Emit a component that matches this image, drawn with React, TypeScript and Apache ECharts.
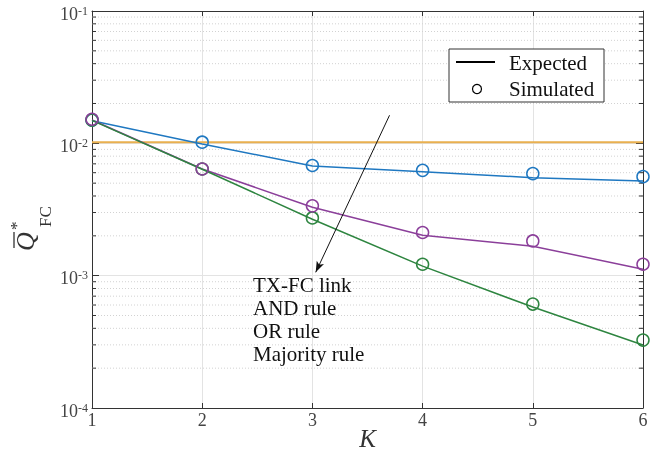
import React, { useEffect, useRef } from "react";
import * as echarts from "echarts";

const K = [1, 2, 3, 4, 5, 6];
const txfcExpected = [0.0102, 0.0102, 0.0102, 0.0102, 0.0102, 0.0102];
const andExpected = [0.0148, 0.0099, 0.00675, 0.0061, 0.0055, 0.0052];
const andSimulated = [0.015, 0.0102, 0.0068, 0.00625, 0.0059, 0.0056];
const orExpected = [0.015, 0.0064, 0.00329, 0.00202, 0.00167, 0.00112];
const orSimulated = [0.0152, 0.0064, 0.00337, 0.00212, 0.00183, 0.00122];
const majExpected = [0.0149, 0.00637, 0.00267, 0.00118, 0.000579, 0.000299];
const majSimulated = [0.015, 0.0064, 0.00273, 0.00122, 0.00061, 0.000326];
const annotationLines = ["TX-FC link", "AND rule", "OR rule", "Majority rule"];
const legendLabels = ["Expected", "Simulated"];
const decades = [-4, -3, -2];
const minorMultipliers = [2, 3, 4, 5, 6, 7, 8, 9];

const COLORS = {
  txfc: "#E9B04F",
  and: "#1F78C1",
  or: "#8B3F9A",
  maj: "#2E8540",
};

const SERIF = "'Liberation Serif', 'Times New Roman', serif";

export default function App() {
  const ref = useRef<HTMLDivElement>(null);

  useEffect(() => {
    if (!ref.current) return;
    const chart = echarts.init(ref.current, undefined, { renderer: "svg" });

    const minorVals: number[] = [];
    decades.forEach((d) => minorMultipliers.forEach((m) => minorVals.push(m * Math.pow(10, d))));

    const pair = (ys: number[]) => K.map((k, i) => [k, ys[i]]);

    const lineSeries = (name: string, ys: number[], color: string, width = 1.5) => ({
      name,
      type: "line",
      data: pair(ys),
      showSymbol: false,
      symbol: "none",
      lineStyle: { color, width },
      itemStyle: { color },
      z: 3,
    });
    const scatterSeries = (name: string, ys: number[], color: string) => ({
      name,
      type: "scatter",
      data: pair(ys),
      symbol: "circle",
      symbolSize: 12,
      itemStyle: { color: "rgba(0,0,0,0)", borderColor: color, borderWidth: 1.5, opacity: 1 },
      z: 4,
    });

    const labelRich = {
      b: { fontFamily: SERIF, fontSize: 18, color: "#444", lineHeight: 18, padding: [5, 0, 0, 0], verticalAlign: "bottom" },
      e: { fontFamily: SERIF, fontSize: 12, color: "#444", lineHeight: 12, verticalAlign: "top" },
    };

    const option: any = {
      animation: false,
      grid: {
        left: 92,
        top: 11,
        width: 551,
        height: 397,
        containLabel: false,
        outerBoundsMode: "none",
      },
      xAxis: [
        {
          type: "value",
          min: 1,
          max: 6,
          interval: 1,
          position: "bottom",
          name: "K",
          nameLocation: "middle",
          nameGap: 18,
          nameMoveOverlap: false,
          nameTextStyle: { fontFamily: SERIF, fontStyle: "italic", fontSize: 25, color: "#333" },
          axisLine: { show: true, lineStyle: { color: "#333", width: 1 } },
          axisTick: { show: true, inside: true, length: 5, lineStyle: { color: "#333" } },
          axisLabel: { fontFamily: SERIF, fontSize: 18, color: "#444", margin: 3 },
          splitLine: { show: true, lineStyle: { color: "#e3e3e3", width: 1 } },
        },
        {
          type: "value",
          min: 1,
          max: 6,
          interval: 1,
          position: "top",
          axisLine: { show: true, lineStyle: { color: "#333", width: 1 } },
          axisTick: { show: true, inside: true, length: 5, lineStyle: { color: "#333" } },
          axisLabel: { show: false },
          splitLine: { show: false },
        },
      ],
      yAxis: [
        {
          type: "log",
          logBase: 10,
          min: 1e-4,
          max: 1e-1,
          position: "left",
          axisLine: { show: true, lineStyle: { color: "#333", width: 1 } },
          axisTick: { show: true, inside: true, length: 7, lineStyle: { color: "#333" } },
          axisLabel: {
            margin: 4,
            padding: [5, 0, 0, 0],
            formatter: (v: number) => `{b|10}{e|${Math.round(Math.log10(v))}}`,
            rich: labelRich,
          },
          splitLine: { show: true, lineStyle: { color: "#e3e3e3", width: 1 } },
          minorTick: { show: false },
        },
        {
          type: "log",
          logBase: 10,
          min: 1e-4,
          max: 1e-1,
          position: "right",
          axisLine: { show: true, lineStyle: { color: "#333", width: 1 } },
          axisTick: { show: true, inside: true, length: 7, lineStyle: { color: "#333" } },
          axisLabel: { show: false },
          splitLine: { show: false },
        },
      ],
      series: [
        {
          name: "minor",
          type: "custom",
          silent: true,
          z: 1,
          data: minorVals.map((v) => [1, v]),
          renderItem: (params: any, api: any) => {
            const v = api.value(1);
            const a = api.coord([1, v]);
            const b = api.coord([6, v]);
            return {
              type: "group",
              children: [
                {
                  type: "line",
                  shape: { x1: a[0], y1: a[1], x2: b[0], y2: b[1] },
                  style: { stroke: "#d2d2d2", lineWidth: 1, lineDash: [1, 2] },
                },
                {
                  type: "line",
                  shape: { x1: a[0], y1: a[1], x2: a[0] + 4, y2: a[1] },
                  style: { stroke: "#333", lineWidth: 1 },
                },
                {
                  type: "line",
                  shape: { x1: b[0] - 4, y1: b[1], x2: b[0], y2: b[1] },
                  style: { stroke: "#333", lineWidth: 1 },
                },
              ],
            };
          },
        },
        {
          ...lineSeries("TX-FC link", txfcExpected, COLORS.txfc, 2),
          markLine: {
            silent: true,
            symbol: ["none", "arrow"],
            symbolSize: [6, 11],
            label: { show: false },
            lineStyle: { color: "#111", width: 1, type: "solid" },
            data: [[{ coord: [3.7, 0.0163] }, { coord: [3.03, 0.00106] }]],
          },
        },
        lineSeries("AND rule", andExpected, COLORS.and),
        lineSeries("OR rule", orExpected, COLORS.or),
        lineSeries("Majority rule", majExpected, COLORS.maj),
        scatterSeries("AND rule sim", andSimulated, COLORS.and),
        scatterSeries("Majority rule sim", majSimulated, COLORS.maj),
        scatterSeries("OR rule sim", orSimulated, COLORS.or),
      ],
      graphic: [
        {
          type: "rect",
          z: 100,
          shape: { x: 449, y: 49, width: 155, height: 53 },
          style: { fill: "#fff", stroke: "#333", lineWidth: 1 },
        },
        {
          type: "line",
          z: 101,
          shape: { x1: 456, y1: 62, x2: 495, y2: 62 },
          style: { stroke: "#000", lineWidth: 2 },
        },
        {
          type: "circle",
          z: 101,
          shape: { cx: 477, cy: 89, r: 4.5 },
          style: { fill: "#fff", stroke: "#000", lineWidth: 1.2 },
        },
        {
          type: "text",
          z: 101,
          x: 509,
          y: 63,
          style: { text: legendLabels[0], font: `21px ${SERIF}`, fill: "#111", verticalAlign: "middle", align: "left" },
        },
        {
          type: "text",
          z: 101,
          x: 509,
          y: 89,
          style: { text: legendLabels[1], font: `21px ${SERIF}`, fill: "#111", verticalAlign: "middle", align: "left" },
        },
        ...annotationLines.map((t, i) => ({
          type: "text",
          x: 253,
          y: 284.5 + i * 23.3,
          z: 100,
          style: { text: t, font: `21px ${SERIF}`, fill: "#111", verticalAlign: "middle", align: "left" },
        })),
        {
          type: "group",
          x: 34,
          y: 251,
          rotation: Math.PI / 2,
          z: 100,
          children: [
            {
              type: "text",
              x: 0,
              y: -9,
              style: { text: "Q", font: `italic 26px ${SERIF}`, fill: "#333", verticalAlign: "middle", align: "left" },
            },
            {
              type: "line",
              shape: { x1: 3, y1: -20, x2: 19, y2: -20 },
              style: { stroke: "#333", lineWidth: 1.3 },
            },
            {
              type: "text",
              x: 21,
              y: -18,
              style: { text: "*", font: `17px ${SERIF}`, fill: "#333", verticalAlign: "middle", align: "left" },
            },
            {
              type: "text",
              x: 24,
              y: 11.5,
              style: { text: "FC", font: `17px ${SERIF}`, fill: "#333", verticalAlign: "middle", align: "left" },
            },
          ],
        },
      ],
    };

    chart.setOption(option);
    return () => chart.dispose();
  }, []);

  return <div ref={ref} style={{ position: "fixed", left: 0, top: 0, width: 667, height: 456 }} />;
}
